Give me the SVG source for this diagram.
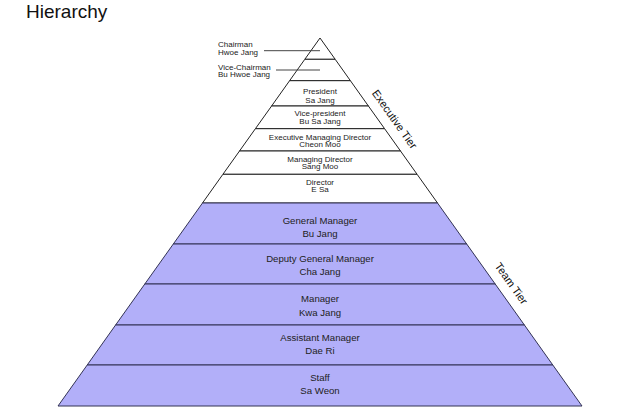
<svg xmlns="http://www.w3.org/2000/svg" width="640" height="416" viewBox="0 0 640 416">
<style>
text{font-family:"Liberation Sans",Arial,sans-serif;fill:#222}
.ex{font-size:8px;text-anchor:middle}
.tm{font-size:9.6px;text-anchor:middle}
.lb{font-size:8px}
.tier{font-size:11px;text-anchor:middle;fill:#111}
.w{fill:#fff;stroke:#222;stroke-width:1}
.p{fill:#b2aff9;stroke:#333355;stroke-width:1}
.ptr{stroke:#444;stroke-width:1;fill:none}
</style>
<rect width="640" height="416" fill="#fff"/>
<text x="26" y="17.5" style="font-size:19px;fill:#111">Hierarchy</text>
<g id="executive-tier">
<g id="chairman"><polygon class="w" points="320,38 335.2,59.3 304.8,59.3"/></g>
<g id="vice-chairman"><polygon class="w" points="304.8,59.3 335.2,59.3 350.4,80.7 289.6,80.7"/></g>
<g id="president"><polygon class="w" points="289.6,80.7 350.4,80.7 368.4,106 271.6,106"/>
<text class="ex" x="320" y="94">President</text><text class="ex" x="320" y="102.5">Sa Jang</text></g>
<g id="vice-president"><polygon class="w" points="271.6,106 368.4,106 384.6,128.7 255.4,128.7"/>
<text class="ex" x="320" y="115.8">Vice-president</text><text class="ex" x="320" y="123.8">Bu Sa Jang</text></g>
<g id="executive-managing-director"><polygon class="w" points="255.4,128.7 384.6,128.7 400.5,151 239.5,151"/>
<text class="ex" x="320" y="139.5">Executive Managing Director</text><text class="ex" x="320" y="147">Cheon Moo</text></g>
<g id="managing-director"><polygon class="w" points="239.5,151 400.5,151 417.1,174.3 222.9,174.3"/>
<text class="ex" x="320" y="161.5">Managing Director</text><text class="ex" x="320" y="169">Sang Moo</text></g>
<g id="director"><polygon class="w" points="222.9,174.3 417.1,174.3 437.5,203 202.5,203"/>
<text class="ex" x="320" y="184.5">Director</text><text class="ex" x="320" y="192">E Sa</text></g>
</g>
<g id="team-tier">
<g id="general-manager"><polygon class="p" points="202.5,203 437.5,203 466.7,244 173.3,244"/>
<text class="tm" x="320" y="223.5">General Manager</text><text class="tm" x="320" y="236.5">Bu Jang</text></g>
<g id="deputy-general-manager"><polygon class="p" points="173.3,244 466.7,244 495.2,284 144.8,284"/>
<text class="tm" x="320" y="262.3">Deputy General Manager</text><text class="tm" x="320" y="275">Cha Jang</text></g>
<g id="manager"><polygon class="p" points="144.8,284 495.2,284 524.4,325 115.6,325"/>
<text class="tm" x="320" y="301.6">Manager</text><text class="tm" x="320" y="315.6">Kwa Jang</text></g>
<g id="assistant-manager"><polygon class="p" points="115.6,325 524.4,325 552.8,365 87.2,365"/>
<text class="tm" x="320" y="341">Assistant Manager</text><text class="tm" x="320" y="354.3">Dae Ri</text></g>
<g id="staff"><polygon class="p" points="87.2,365 552.8,365 582,406 58,406"/>
<text class="tm" x="320" y="381">Staff</text><text class="tm" x="320" y="394.3">Sa Weon</text></g>
</g>
<g id="labels">
<text class="lb" x="218" y="47">Chairman</text><text class="lb" x="218" y="54.5">Hwoe Jang</text>
<text class="lb" x="218" y="69.5">Vice-Chairman</text><text class="lb" x="218" y="77">Bu Hwoe Jang</text>
<text class="tier" transform="translate(391.5,121.5) rotate(54.6)">Executive Tier</text>
<text class="tier" transform="translate(508.2,285.6) rotate(54.6)">Team Tier</text>
</g>
<g id="connectors">
<line class="ptr" x1="264" y1="50.7" x2="320" y2="50.7"/>
<line class="ptr" x1="276" y1="70" x2="320" y2="70"/>
</g>
</svg>
